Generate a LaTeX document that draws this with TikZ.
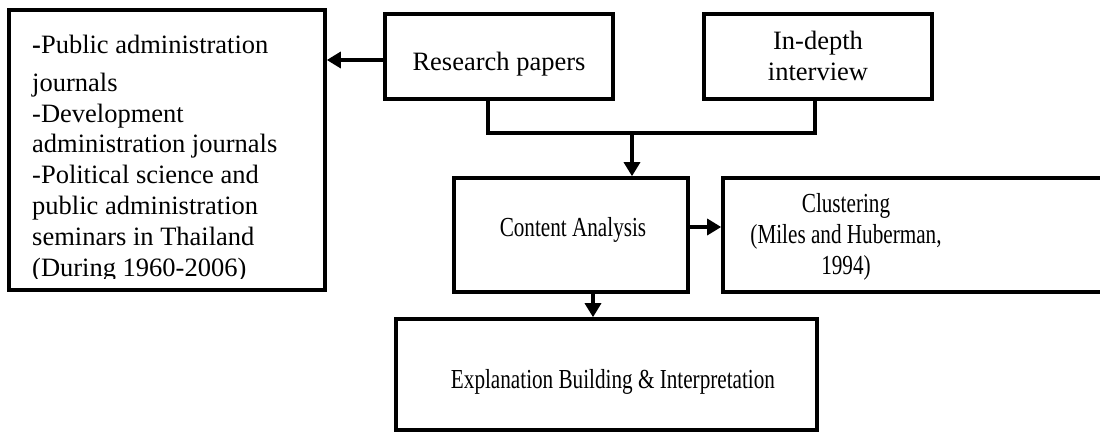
\documentclass[tikz,border=0pt]{standalone}
\usepackage{fontspec}
\setmainfont{Liberation Serif}
\newfontfamily\narrowserif[FakeStretch=0.77]{Liberation Serif}
\usetikzlibrary{arrows.meta}

\begin{document}
\begin{tikzpicture}[x=1pt,y=-1pt,
  box/.style={draw,line width=3.6pt,inner sep=0pt,rectangle},
  lbl/.style={inner sep=0pt,anchor=base,align=center,
    font=\fontsize{26.5}{30.8}\selectfont},
  nlbl/.style={lbl,font=\narrowserif\fontsize{27.5}{30.6}\selectfont},
  link/.style={line width=3.3pt},
  arr/.style={link,-{Triangle[length=14pt,width=16pt]}}]
\useasboundingbox (0,0) rectangle (1100,432);

% boxes
\node[box,minimum width=316,minimum height=280] (src) at (167,150) {};
\node[box,minimum width=228,minimum height=85] (rp) at (499,56.5) {};
\node[box,minimum width=228,minimum height=85] (idi) at (818,56.5) {};
\node[box,minimum width=234,minimum height=114] (ca) at (571,235) {};
\node[box,minimum width=384,minimum height=114] (cl) at (915,235) {};
\node[box,minimum width=421,minimum height=111] (exp) at (606.5,374.5) {};

% labels (a multi-line label sits on the baseline of its last line)
\node[lbl] (rpt) at (499,70) {Research papers};
\node[lbl] (idit) at (818,80) {In-depth\\interview};
\node[nlbl] (cat) at (573,236) {Content Analysis};
\node[nlbl] (clt) at (846,274) {Clustering\\(Miles and Huberman,\\1994)};
\node[nlbl] (expt) at (613,388) {Explanation Building \& Interpretation};

\begin{scope}
  \clip (9,10) rectangle (325,278);
  \node[lbl,anchor=base west,align=left] (srct) at (32,276)
    {\textbf{-}Public administration\\[7pt]journals\\-Development\\administration journals\\-Political science and\\public administration\\seminars in Thailand\\(During 1960-2006)};
\end{scope}

% connectors
\coordinate (rpout) at ([yshift=-3.5pt]rp.west);
\draw[arr] (rpout) -- (rpout -| src.east);

\coordinate (rpdrop) at ([xshift=-11pt]rp.south);
\coordinate (idrop) at ([xshift=-3pt]idi.south);
\coordinate (mrg) at (632,133);
\draw[link] (rpdrop) |- (mrg -| idrop) -- (idrop);
\draw[arr] (mrg) -- (mrg |- ca.north);

\coordinate (caout) at ([yshift=8pt]ca.east);
\draw[arr] (caout) -- (caout -| cl.west);

\coordinate (cadrop) at ([xshift=22pt]ca.south);
\draw[arr] (cadrop) -- (cadrop |- exp.north);
\end{tikzpicture}
\end{document}
